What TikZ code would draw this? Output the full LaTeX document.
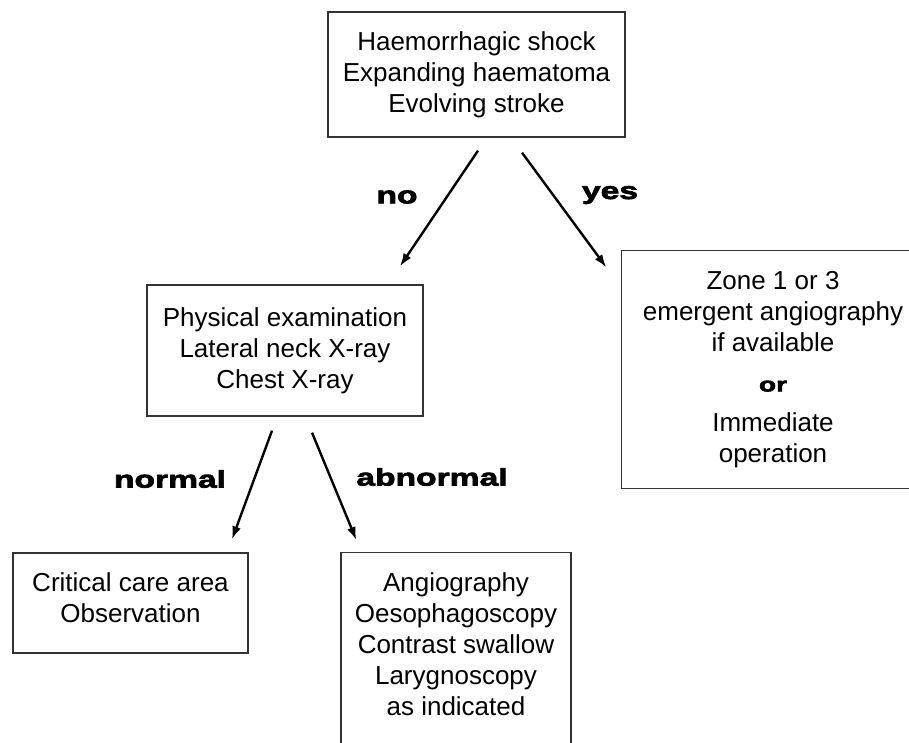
\documentclass[tikz,border=0pt]{standalone}
\usepackage{fontspec}
\setmainfont{Liberation Sans}
\newfontfamily\branchfont[FakeStretch=1.4,FakeBold=3]{Liberation Sans}
\usetikzlibrary{arrows.meta}

\tikzset{
  boxline/.style={draw=black!80, line width=1.3pt},
  box/.style={boxline, align=center, inner sep=0pt,
    font=\fontsize{26}{31}\selectfont},
  branch/.style={font=\fontsize{24}{24}\branchfont\bfseries},
  arr/.style={-{Latex[length=13pt,width=9pt]}, line width=2.4pt}
}

\begin{document}
\begin{tikzpicture}[x=1pt,y=-1pt]
    \useasboundingbox (0,0) rectangle (909,742);

    % boxes
    \node[box, minimum width=297pt, minimum height=125pt] (shock) at (476.5,74.5)
        {Haemorrhagic shock\\Expanding haematoma\\Evolving stroke};
    \node[box, minimum width=276pt, minimum height=131pt] (exam) at (285,350.5)
        {Physical examination\\Lateral neck X-ray\\Chest X-ray};
    \node[box, draw=none, minimum width=302pt, minimum height=237pt] (zone) at (773,369.5)
        {Zone 1 or 3\\emergent angiography\\if available\\[9pt]
         {\fontsize{20}{24}\branchfont\bfseries or}\\[9pt]Immediate\\operation};
    \draw[boxline] (zone.north west) rectangle ([xshift=40pt]zone.south east);
    \node[box, minimum width=235pt, minimum height=100pt] (care) at (130.5,603)
        {Critical care area\\Observation\\[-21pt]};
    \node[box, anchor=north, minimum width=230pt, minimum height=240pt] (tests) at (456,552)
        {Angiography\\Oesophagoscopy\\Contrast swallow\\Larygnoscopy\\as indicated\\[26pt]};

    % branch labels
    \node[branch] (no) at (397,197) {no};
    \node[branch] (yes) at (610,195) {yes};
    \node[branch] (normal) at (170,479) {normal};
    \node[branch] (abnormal) at (432,477) {abnormal};

    \draw[arr] ([xshift=1.5pt,yshift=-13pt]shock.south) -- ([xshift=115pt,yshift=18pt]exam.north);
    \draw[arr] ([xshift=45.5pt,yshift=-15pt]shock.south) -- ([xshift=-15pt,yshift=-17pt]zone.north west);
    \draw[arr] ([xshift=-13pt,yshift=-14pt]exam.south) -- ([xshift=101.5pt,yshift=13pt]care.north);
    \draw[arr] ([xshift=27pt,yshift=-16pt]exam.south) -- ([xshift=16pt,yshift=12pt]tests.north west);
\end{tikzpicture}
\end{document}
